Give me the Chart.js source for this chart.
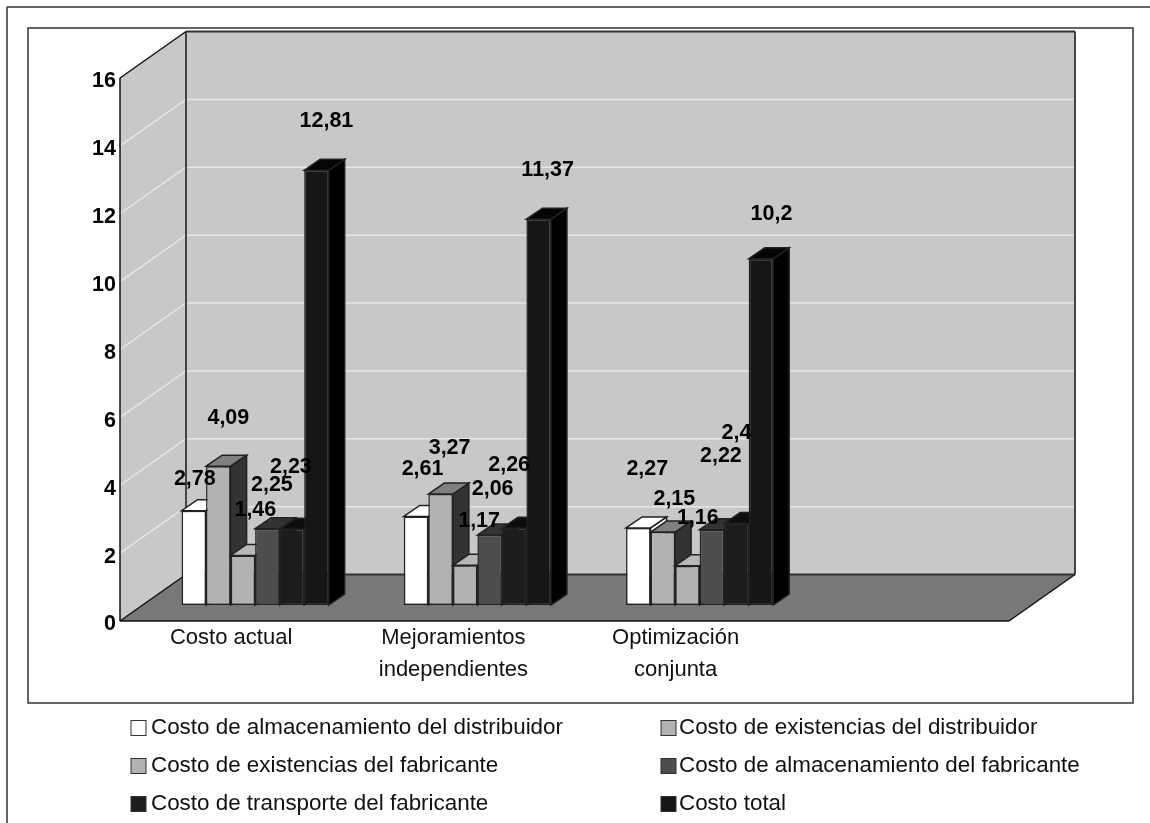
<!DOCTYPE html>
<html>
<head>
<meta charset="utf-8">
<style>
  html, body { margin: 0; padding: 0; background: #fff; overflow: hidden; }
  #wrap { width: 1150px; height: 823px; position: relative; }
</style>
</head>
<body>
<div id="wrap"><canvas id="chart" width="1150" height="823"></canvas></div>
<script src="https://cdn.jsdelivr.net/npm/chart.js@4/dist/chart.umd.min.js"></script>
<script>
// data
const categories = ['Costo actual', ['Mejoramientos', 'independientes'], ['Optimización', 'conjunta'], '']
const seriesNames = [
  'Costo de almacenamiento del distribuidor',
  'Costo de existencias del distribuidor',
  'Costo de existencias del fabricante',
  'Costo de almacenamiento del fabricante',
  'Costo de transporte del fabricante',
  'Costo total'
]
const almacenDistribuidor = [2.78, 2.61, 2.27, null]
const existenciasDistribuidor = [4.09, 3.27, 2.15, null]
const existenciasFabricante = [1.46, 1.17, 1.16, null]
const almacenFabricante = [2.25, 2.06, 2.22, null]
const transporteFabricante = [2.23, 2.26, 2.4, null]
const costoTotal = [12.81, 11.37, 10.2, null]
const seriesValues = [almacenDistribuidor, existenciasDistribuidor, existenciasFabricante, almacenFabricante, transporteFabricante, costoTotal]

const frontColors = ['#ffffff', '#b2b2b2', '#b2b2b2', '#4d4d4d', '#1c1c1c', '#161616']
const sideColors = ['#ffffff', '#333333', '#666666', '#262626', '#0e0e0e', '#000000']
const topColors = ['#ffffff', '#808080', '#b8b8b8', '#333333', '#0d0d0d', '#050505']

// hand placed value labels, offset from the top centre of each bar, series by series
const labelOffsets = [
  [[1, -32], [6.5, -47], [9, -59]],
  [[10, -48], [9, -46], [11.5, -33]],
  [[12.5, -45], [14, -44], [10.5, -48]],
  [[4.5, -44], [3, -46], [9, -74]],
  [[-1, -62], [-5, -63], [0, -90]],
  [[10, -49], [9, -49], [10.5, -45]]
]

const font = 'Liberation Sans'
const wallDepth = { x: 66, y: -46.5 }
const barShift = { x: 24, y: -16 }
const barDepth = { x: 16, y: -11 }

function poly(ctx, pts, fill, stroke, lw) {
  ctx.beginPath()
  pts.forEach((p, i) => i ? ctx.lineTo(p[0], p[1]) : ctx.moveTo(p[0], p[1]))
  ctx.closePath()
  if (fill) { ctx.fillStyle = fill; ctx.fill() }
  if (stroke) { ctx.strokeStyle = stroke; ctx.lineWidth = lw || 1.5; ctx.stroke() }
}

function line(ctx, x1, y1, x2, y2, color, lw) {
  ctx.beginPath()
  ctx.moveTo(x1, y1)
  ctx.lineTo(x2, y2)
  ctx.strokeStyle = color
  ctx.lineWidth = lw
  ctx.stroke()
}

const scene3d = {
  id: 'scene3d',
  beforeDraw(chart) {
    const ctx = chart.ctx
    const { left, right, top, bottom } = chart.chartArea
    const dx = wallDepth.x, dy = wallDepth.y

    ctx.save()
    ctx.fillStyle = '#fff'
    ctx.fillRect(0, 0, chart.width, chart.height)

    // outer frames
    line(ctx, 7, 823, 7, 7, '#333', 1.5)
    line(ctx, 7, 7, 1150, 7, '#333', 1.5)
    ctx.strokeStyle = '#333'
    ctx.lineWidth = 1.5
    ctx.strokeRect(28, 28, 1105, 675)

    // walls and floor
    poly(ctx, [[left + dx, top + dy], [right + dx, top + dy], [right + dx, bottom + dy], [left + dx, bottom + dy]], '#c8c8c8')
    poly(ctx, [[left, top], [left + dx, top + dy], [left + dx, bottom + dy], [left, bottom]], '#c8c8c8')
    poly(ctx, [[left, bottom], [left + dx, bottom + dy], [right + dx, bottom + dy], [right, bottom]], '#787878')

    // grid lines run across both walls
    chart.scales.y.ticks.forEach(t => {
      if (t.value === 0 || t.value === 16) return
      const py = chart.scales.y.getPixelForValue(t.value)
      ctx.beginPath()
      ctx.moveTo(left, py)
      ctx.lineTo(left + dx, py + dy)
      ctx.lineTo(right + dx, py + dy)
      ctx.strokeStyle = '#e6e6e6'
      ctx.lineWidth = 1.5
      ctx.stroke()
    })

    // wall edges
    line(ctx, left + dx, top + dy, right + dx, top + dy, '#333', 2)
    line(ctx, left + dx, top + dy, left + dx, bottom + dy, '#444', 2)
    line(ctx, right + dx, top + dy, right + dx, bottom + dy, '#444', 2)
    line(ctx, left + dx, bottom + dy, right + dx, bottom + dy, '#333', 2)
    line(ctx, left, top, left + dx, top + dy, '#111', 1.5)
    line(ctx, left, top, left, bottom, '#111', 1.5)
    line(ctx, left, bottom, left + dx, bottom + dy, '#111', 1.5)
    line(ctx, right, bottom, right + dx, bottom + dy, '#111', 1.5)
    line(ctx, left, bottom, right, bottom, '#111', 1.5)
    ctx.restore()
  },
  // paint left to right so each bar's front covers the side of the one before it
  beforeDatasetsDraw(chart) {
    const ctx = chart.ctx
    ctx.save()
    ctx.translate(barShift.x, barShift.y)
    chart.data.datasets.forEach((ds, i) => {
      chart.getDatasetMeta(i).data.forEach((el, j) => {
        if (ds.data[j] === null) return
        const { x, y, base, width } = el.getProps(['x', 'y', 'base', 'width'], true)
        const l = x - width / 2, r = x + width / 2
        const dx = barDepth.x, dy = barDepth.y
        poly(ctx, [[r, y], [r + dx, y + dy], [r + dx, base + dy], [r, base]], sideColors[i], '#222', 1.5)
        poly(ctx, [[l, y], [l + dx, y + dy], [r + dx, y + dy], [r, y]], topColors[i], '#222', 1.5)
        el.draw(ctx)
      })
    })
    ctx.restore()
  },
  beforeDatasetDraw() {
    return false
  },
  afterDatasetsDraw(chart) {
    const ctx = chart.ctx
    ctx.save()
    ctx.font = 'bold 21.5px "' + font + '"'
    ctx.fillStyle = '#000'
    ctx.textAlign = 'center'
    ctx.textBaseline = 'middle'
    chart.data.datasets.forEach((ds, i) => {
      chart.getDatasetMeta(i).data.forEach((el, j) => {
        if (ds.data[j] === null) return
        const off = labelOffsets[i][j]
        const { x, y } = el.getProps(['x', 'y'], true)
        ctx.fillText(String(ds.data[j]).replace('.', ','), x + barShift.x + off[0], y + barShift.y + off[1])
      })
    })
    ctx.restore()
  },
  afterDraw(chart) {
    // two column legend under the box
    const ctx = chart.ctx
    const cols = [131, 661]
    const rows = [728, 766, 804]
    ctx.save()
    ctx.font = '22.4px "' + font + '"'
    ctx.textBaseline = 'middle'
    ctx.textAlign = 'left'
    chart.data.datasets.forEach((ds, i) => {
      const x = cols[i % 2], y = rows[Math.floor(i / 2)]
      ctx.fillStyle = ds.backgroundColor
      ctx.fillRect(x, y - 7.5, 15, 15)
      ctx.strokeStyle = '#333'
      ctx.lineWidth = 1
      ctx.strokeRect(x, y - 7.5, 15, 15)
      ctx.fillStyle = '#111'
      ctx.fillText(ds.label, x + (i % 2 ? 18 : 20), y)
    })
    ctx.restore()
  }
}

new Chart(document.querySelector('#chart'), {
  type: 'bar',
  data: {
    labels: categories,
    datasets: seriesValues.map((values, i) => ({
      label: seriesNames[i],
      data: values,
      backgroundColor: frontColors[i],
      borderColor: '#222',
      borderWidth: 1.5,
      borderSkipped: false,
      categoryPercentage: 0.662,
      barPercentage: 1
    }))
  },
  options: {
    responsive: false,
    animation: false,
    layout: { padding: { left: 80, right: 141, top: 78, bottom: 102 } },
    plugins: {
      legend: { display: false },
      tooltip: { enabled: false }
    },
    scales: {
      x: {
        grid: { display: false, drawTicks: false },
        border: { display: false },
        afterFit: s => { s.height = 100 },
        ticks: {
          autoSkip: false,
          maxRotation: 0,
          padding: 1,
          color: '#111',
          font: { family: font, size: 22, lineHeight: 1.45 }
        }
      },
      y: {
        min: 0,
        max: 16,
        grid: { display: false, drawTicks: false },
        border: { display: false },
        afterFit: s => { s.width = 40 },
        ticks: {
          stepSize: 2,
          padding: 4,
          labelOffset: 3.5,
          color: '#000',
          font: { family: font, size: 21.5, weight: 'bold' }
        }
      }
    }
  },
  plugins: [scene3d]
})
</script>
</body>
</html>
